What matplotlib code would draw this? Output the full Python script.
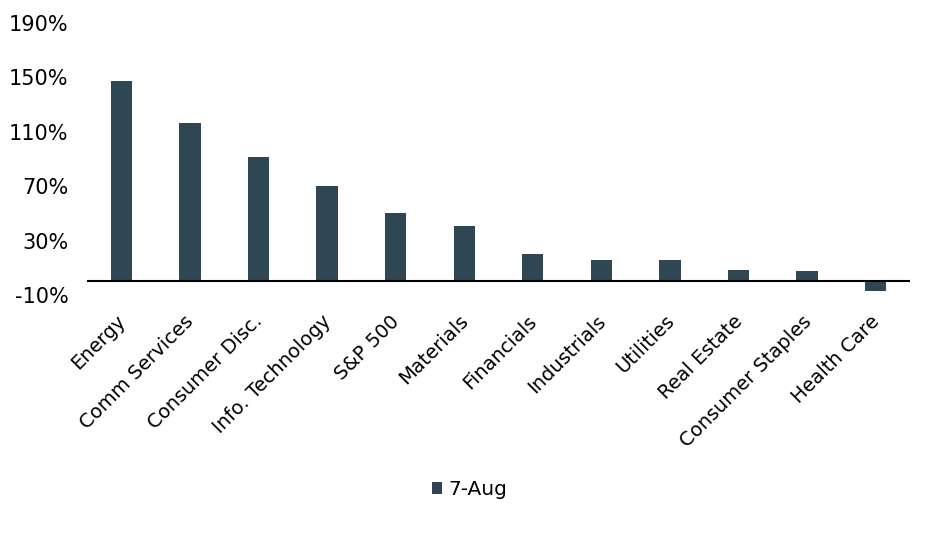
import matplotlib.pyplot as plt
import matplotlib.transforms as mtransforms
import numpy as np

sectors = ['Energy', 'Comm Services', 'Consumer Disc.', 'Info. Technology',
           'S&P 500', 'Materials', 'Financials', 'Industrials', 'Utilities',
           'Real Estate', 'Consumer Staples', 'Health Care']
aug7 = [147, 116.5, 91.5, 70, 50, 41, 20.5, 16, 15.5, 8.5, 7.5, -7]
yticks = [-10, 30, 70, 110, 150, 190]

bar_color = '#2e4753'

fig = plt.figure(figsize=(9.49, 5.44), dpi=100)
ax = fig.add_axes([0.0917, 0.4577, 0.8672, 0.5])

x = np.arange(len(sectors))
ax.bar(x, aug7, width=0.31, color=bar_color, label='7-Aug', zorder=2)
ax.axhline(0, color='black', linewidth=1.5, zorder=3)

ax.set_xlim(-0.5, len(sectors) - 0.5)
ax.set_ylim(-10, 190)
ax.set_yticks(yticks)
ax.set_yticklabels([f'{t}%' for t in yticks], fontsize=15)
ax.set_xticks(x)
ax.set_xticklabels(sectors, rotation=45, ha='right', rotation_mode='anchor', fontsize=14)
ax.tick_params(axis='both', length=0)
ax.tick_params(axis='x', pad=12)
ax.tick_params(axis='y', pad=13.5)
for s in ax.spines.values():
    s.set_visible(False)

# nudge the rotated labels a little left
shift = mtransforms.ScaledTranslation(-4 / 72, 0, fig.dpi_scale_trans)
for lab in ax.get_xticklabels():
    lab.set_transform(lab.get_transform() + shift)

fig.legend(loc='center', bbox_to_anchor=(0.495, 0.1), frameon=False, fontsize=14.5,
           handlelength=0.5, handleheight=0.5, handletextpad=0.3)

fig.savefig('out.png', dpi=100)
